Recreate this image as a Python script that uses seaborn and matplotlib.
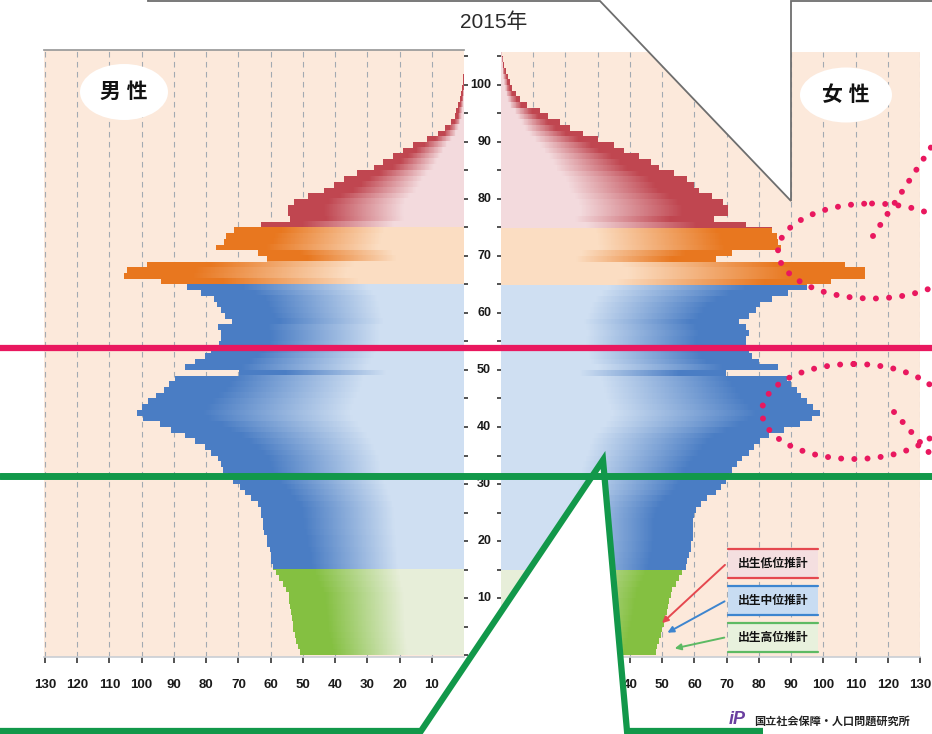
import numpy as np
import pandas as pd
import seaborn as sns
import matplotlib.pyplot as plt
from matplotlib.colors import to_rgb
from matplotlib.path import Path
from matplotlib.patches import PathPatch, Ellipse, Polygon, Rectangle, FancyArrowPatch

sns.set_theme(style='white')
plt.rcParams['font.family'] = ['Liberation Sans', 'Noto Sans CJK JP', 'DejaVu Sans']

# population by single year of age, 2015 (10,000 persons)
ages = np.arange(106)
male = [51.0, 51.5, 52.0, 52.5, 53.0, 53.2, 53.5, 53.7, 53.9, 54.2,
        54.2, 55.2, 56.2, 57.3, 58.3, 59.3, 59.8, 59.8, 60.3, 61.0,
        61.0, 61.9, 62.4, 62.4, 62.9, 63.0, 64.0, 66.0, 68.0, 69.6,
        71.7, 73.3, 74.8, 75.3, 76.3, 78.4, 80.5, 83.6, 86.7, 91.0,
        94.4, 99.5, 101.5, 100.0, 98.0, 95.4, 93.0, 91.4, 89.8, 69.8,
        86.7, 83.6, 80.5, 78.4, 76.0, 75.3, 75.3, 76.3, 72.0, 74.0,
        75.3, 76.5, 77.5, 81.5, 86.0, 94.0, 105.5, 104.5, 98.5, 61.0,
        64.0, 77.0, 74.5, 73.8, 71.3, 63.0, 54.0, 54.6, 54.6, 52.8,
        48.5, 43.5, 40.3, 37.3, 33.2, 28.0, 25.0, 22.0, 19.0, 15.7,
        11.5, 8.0, 5.9, 3.9, 2.9, 2.4, 1.8, 1.3, 0.8, 0.5,
        0.3, 0.2, 0.15, 0.1, 0.05, 0.02]
female = [48.0, 48.5, 49.0, 49.5, 50.0, 50.5, 51.0, 51.6, 51.9, 52.0,
          52.7, 53.2, 54.2, 55.3, 56.3, 57.3, 57.8, 58.3, 59.0, 59.0,
          59.5, 59.5, 59.5, 59.5, 60.0, 60.5, 62.0, 64.0, 66.7, 68.2,
          69.7, 70.7, 71.6, 73.2, 74.8, 76.8, 78.4, 80.5, 83.0, 87.7,
          92.8, 96.4, 99.0, 96.9, 94.8, 93.0, 91.7, 90.0, 88.6, 69.7,
          86.0, 80.0, 78.0, 76.8, 76.0, 76.0, 77.0, 76.0, 73.7, 77.0,
          79.0, 80.5, 84.0, 89.0, 95.0, 102.5, 113.0, 113.0, 106.8, 66.7,
          71.6, 87.0, 86.0, 85.5, 84.0, 76.0, 66.0, 70.5, 70.5, 69.0,
          65.5, 61.4, 60.0, 57.7, 53.7, 49.0, 46.5, 42.9, 38.3, 35.2,
          30.0, 25.3, 21.3, 18.2, 14.6, 12.0, 8.0, 6.0, 4.5, 3.4,
          2.7, 2.1, 1.5, 1.0, 0.6, 0.3]

band_edges = [15, 65, 75]
band_dark = ['#84C041', '#4A7DC4', '#E8771F', '#C04650']
band_light = ['#E7EED9', '#CFDFF2', '#FBDDC2', '#F3DADD']
age_ticks = list(range(10, 101, 10))
x_ticks = list(range(10, 131, 10))
title = '2015年'
side_labels = ['男 性', '女 性']
legend_labels = ['出生低位推計', '出生中位推計', '出生高位推計']
legend_edges = ['#E5484F', '#3D85CF', '#5DBA63']
legend_fills = ['#F4DFE0', '#C8DCF2', '#E8F1DD']
source = '国立社会保障・人口問題研究所'

W, H = 932, 734
BG = '#FCE9DB'


def rect(x0, y0, x1, y1):
    return [x0 / W, 1 - y1 / H, (x1 - x0) / W, (y1 - y0) / H]


def age_at(ypx):
    return (655 - ypx) / 5.7


def gradient(vals, ncol=520):
    v = (np.arange(ncol) + 0.5) * 130 / ncol
    img = np.zeros((len(ages), ncol, 3))
    dark = [np.array(to_rgb(c)) for c in band_dark]
    light = [np.array(to_rgb(c)) for c in band_light]
    for i, (a, L) in enumerate(zip(ages, vals)):
        b = np.searchsorted(band_edges, a, side='right')
        t = np.clip((v / max(L, 0.1) - 0.35) / 0.45, 0, 1)
        img[i] = light[b] + (dark[b] - light[b]) * t[:, None]
    return img


df = pd.DataFrame({'age': ages + 0.5, 'male': male, 'female': female})

fig = plt.figure(figsize=(W / 100, H / 100), dpi=100)
ax_l = fig.add_axes(rect(44, 50, 464, 657))
ax_r = fig.add_axes(rect(501, 52, 920, 657))

for ax, col, top in [(ax_l, 'male', 50), (ax_r, 'female', 52)]:
    sns.barplot(data=df, x=col, y='age', orient='y', native_scale=True,
                width=1, errorbar=None, color='white', linewidth=0, ax=ax)
    bars = [p for p in ax.patches]
    paths = [p.get_path().transformed(p.get_patch_transform()) for p in bars]
    for p in bars:
        p.set_visible(False)
    im = ax.imshow(gradient(df[col].values), extent=(0, 130, 0, 106), origin='lower',
                   aspect='auto', interpolation='nearest', zorder=2)
    im.set_clip_path(PathPatch(Path.make_compound_path(*paths), transform=ax.transData))

    ax.set_facecolor(BG)
    ax.set_ylim(age_at(657), age_at(top))
    ax.set_xticks(x_ticks)
    ax.set_xticklabels([str(t) for t in x_ticks])
    ax.set_yticks(range(0, 106, 5))
    ax.set_xlabel('')
    ax.set_ylabel('')
    ax.grid(axis='x', color='#A3AAB2', linestyle=(0, (5, 4)), linewidth=0.8)
    ax.grid(axis='y', visible=False)
    ax.set_axisbelow(True)
    for s in ax.spines.values():
        s.set_visible(False)
    ax.spines['bottom'].set_visible(True)
    ax.spines['bottom'].set_color('#C9CED4')
    ax.spines['bottom'].set_linewidth(1.2)
    ax.tick_params(axis='x', bottom=True, length=4, width=1.3, color='#444',
                   pad=12, labelsize=9.5, labelcolor='#1a1a1a')
    for lab in ax.get_xticklabels():
        lab.set_fontweight('bold')

ax_l.set_xlim(130.3, 0)
ax_r.set_xlim(0, 130)
ax_l.spines['top'].set_visible(True)
ax_l.spines['top'].set_color('#9A9A9A')
ax_l.tick_params(axis='y', left=False, right=True, labelleft=False, labelright=False,
                 direction='out', length=3, width=1.3, color='#444')
ax_r.tick_params(axis='y', left=True, right=False, labelleft=False, labelright=False,
                 direction='out', length=3, width=1.3, color='#444')

# age labels in the middle column
for a in age_ticks:
    ax_l.text((491 - 44) / (464 - 44), a, str(a), transform=ax_l.get_yaxis_transform(),
              ha='right', va='center', fontsize=9, fontweight='bold', color='#1a1a1a',
              clip_on=False)

# overlay in pixel coordinates
ov = fig.add_axes([0, 0, 1, 1], zorder=5)
ov.set_xlim(0, W)
ov.set_ylim(H, 0)
ov.axis('off')
ov.patch.set_alpha(0)

ov.text(494, 22, title, ha='center', va='center', fontsize=15, color='#2a2a2a')

for (cx, cy, w, h), lab in zip([(124, 92, 88, 56), (846, 95, 92, 55)], side_labels):
    ov.add_patch(Ellipse((cx, cy), w, h, fc='white', ec='none'))
    ov.text(cx, cy, lab, ha='center', va='center', fontsize=15, fontweight='bold', color='#111111')

# grey callout
ov.add_patch(Polygon([(148, -20), (148, 1), (600, 1), (791, 201), (791, 1), (940, 1), (940, -20)],
                     closed=True, fc='white', ec='#6E6E6E', lw=1.3))

# legend boxes and arrows
tops = [549, 586, 623]
ends = [(660, 625), (665, 634), (672, 649)]
for top, lab, ec, fc, end in zip(tops, legend_labels, legend_edges, legend_fills, ends):
    ov.add_patch(Rectangle((728, top), 90, 29, fc=fc, ec='none'))
    ov.plot([728, 818], [top, top], color=ec, lw=1.6)
    ov.plot([728, 818], [top + 29, top + 29], color=ec, lw=1.6)
    ov.text(773, top + 15, lab, ha='center', va='center', fontsize=8.5, fontweight='bold', color='#111111')
    ov.add_patch(FancyArrowPatch((727, top + 14), end, arrowstyle='-|>', mutation_scale=9,
                                 color=ec, lw=1.4))

# horizontal marker lines
ov.axhline(348, color='#E9185F', lw=4.5)
ov.axhline(476, color='#12984A', lw=5)

# green callout
ov.add_patch(Polygon([(-10, 731), (421, 731), (603, 460), (627, 731), (763, 731), (763, 760), (-10, 760)],
                     closed=True, fc='white', ec='none'))
ov.plot([-10, 421, 603, 627, 763], [731, 731, 460, 731, 731], color='#12984A', lw=4.5,
        solid_joinstyle='miter', solid_capstyle='butt')

# dotted highlight ellipses
dots = dict(fill=False, ec='#E9185F', lw=4.3, linestyle=(0, (0.01, 2.2)))
for c, w, h in [((872, 251), 188, 95), ((854, 411.5), 184, 95)]:
    e = Ellipse(c, w, h, **dots)
    e.set_capstyle('round')
    ov.add_patch(e)
for xs, ys in [([873, 945], [236, 126]), ([894, 945], [412, 471])]:
    ov.plot(xs, ys, color='#E9185F', lw=4.3, linestyle=(0, (0.01, 2.2)), dash_capstyle='round')

# source logo
ov.text(737, 719, 'iP', ha='center', va='center', fontsize=13, fontweight='bold',
        style='italic', color='#6A3FA0')
ov.text(754, 721, source, ha='left', va='center', fontsize=8, fontweight='bold', color='#222222')

fig.savefig('out.png', dpi=100)
